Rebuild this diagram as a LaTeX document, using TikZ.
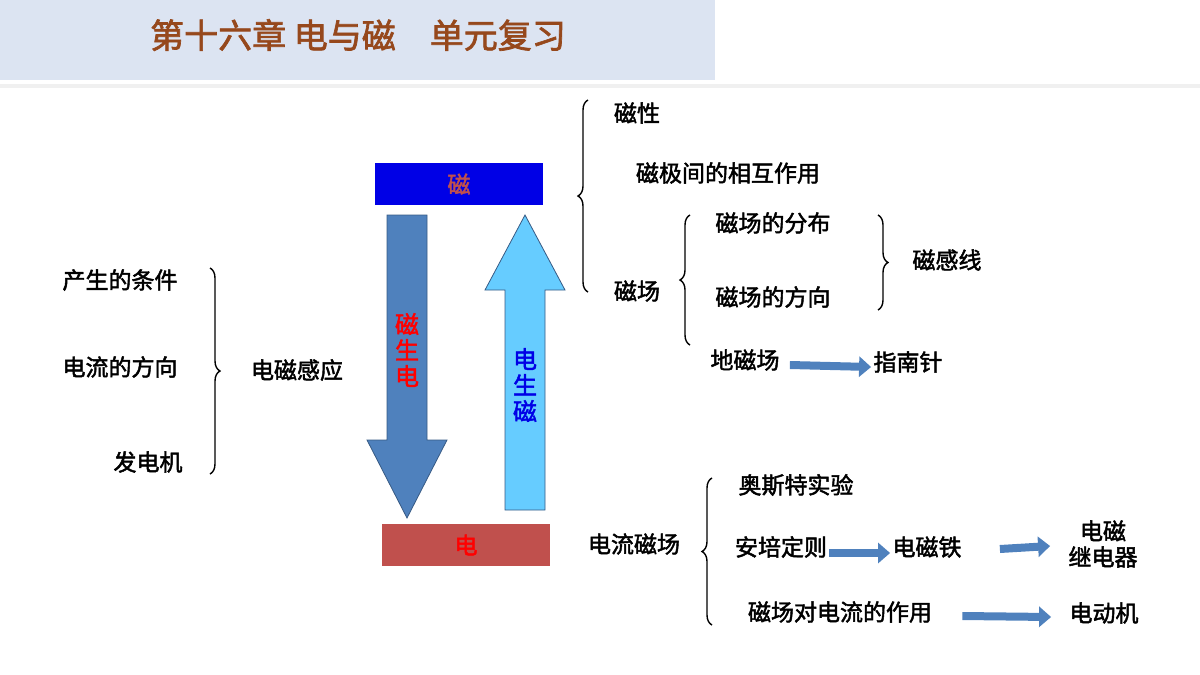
\documentclass[tikz,border=0pt]{standalone}
\usepackage{fontspec}
\setmainfont[FakeBold=2]{Noto Sans CJK SC}
\usetikzlibrary{decorations.pathreplacing,arrows.meta}
\definecolor{bandblue}{RGB}{220,228,242}
\definecolor{titlebrown}{RGB}{150,72,28}
\definecolor{magblue}{RGB}{0,0,230}
\definecolor{elecred}{RGB}{192,80,77}
\definecolor{steel}{RGB}{79,129,189}
\definecolor{skyblue}{RGB}{102,204,255}
\tikzset{
  lbl/.style={font=\fontsize{11.5}{13}\selectfont, inner sep=1pt},
  brc/.style={decorate, decoration={brace, amplitude=5pt}, line width=0.7pt},
  blk/.style={-{Triangle[length=6pt,width=10pt]}, line width=4pt, steel}
}
\begin{document}
\begin{tikzpicture}[x=0.5pt,y=-0.5pt]
  \useasboundingbox (0,0) rectangle (1200,675);
  % title band
  \fill [bandblue] (0,0) rectangle (715,80);
  \fill [black!6] (0,84) rectangle (1200,88);
  \node (title) [font=\fontsize{17}{20}\selectfont, text=titlebrown] at (358,35) {第十六章 电与磁\quad 单元复习};

  % the two boxes
  \node (ci) [fill=magblue, minimum width=84pt, minimum height=21pt, text=elecred, lbl] at (459,184) {磁};
  \node (dian) [fill=elecred, minimum width=84pt, minimum height=21pt, text=red, lbl] at (466,545) {电};

  % big arrows
  \fill [steel, draw=steel!70!black] (387,215) -- (427,215) -- (427,440) -- (447,440)
    -- (407,518) -- (367,440) -- (387,440) -- cycle;
  \fill [skyblue, draw=steel!70!black] (505,510) -- (545,510) -- (545,290) -- (565,290)
    -- (525,215) -- (485,290) -- (505,290) -- cycle;
  \node (csd) [lbl, text=red, align=center, font=\fontsize{12}{13}\selectfont] at (407,350) {磁\\生\\电};
  \node (dsc) [lbl, text=magblue, align=center, font=\fontsize{12}{13}\selectfont] at (525,385) {电\\生\\磁};

  % left group
  \node (tiaojian) [lbl] at (120,280) {产生的条件};
  \node (fangxiang) [lbl] at (120,367) {电流的方向};
  \node (fadianji) [lbl] at (148,462) {发电机};
  \draw [brc] (210,268) -- (210,474);
  \node (ganying) [lbl] at (297,370) {电磁感应};

  % magnetism group
  \draw [brc] (588,292) -- (588,100);
  \node (cixing) [lbl] at (637,113) {磁性};
  \node (xianghu) [lbl] at (728,173) {磁极间的相互作用};
  \node (cichang) [lbl] at (637,291) {磁场};
  \draw [brc] (690,345) -- (690,215);
  \node (fenbu) [lbl] at (773,223) {磁场的分布};
  \node (cfx) [lbl] at (773,297) {磁场的方向};
  \node (dici) [lbl] at (745,360) {地磁场};
  \draw [brc] (878,215) -- (878,310);
  \node (ganxian) [lbl] at (947,260) {磁感线};
  \node (znz) [lbl] at (908,362) {指南针};
  \draw [blk] (dici.east) ++(8,5) -- ([yshift=-2.5pt]znz.west);

  % current field group
  \node (dlcc) [lbl] at (634,544) {电流磁场};
  \draw [brc] (712,625) -- (712,478);
  \node (aosite) [lbl] at (796,485) {奥斯特实验};
  \node (anpei) [lbl] at (781,547) {安培定则};
  \node (dct) [lbl] at (927,547) {电磁铁};
  \node (jdq) [lbl, align=center] at (1103,544) {电磁\\继电器};
  \node (zuoyong) [lbl] at (840,612) {磁场对电流的作用};
  \node (ddj) [lbl] at (1104,613) {电动机};
  \draw [blk] ([yshift=-3pt]anpei.east) -- ([yshift=-3pt]dct.west);
  \draw [blk] ([shift={(18pt,-1pt)}]dct.east) -- ([shift={(-8pt,-1pt)}]jdq.west);
  \draw [blk] ([shift={(14pt,-2pt)}]zuoyong.east) -- ([shift={(-8pt,-2pt)}]ddj.west);
\end{tikzpicture}
\end{document}
